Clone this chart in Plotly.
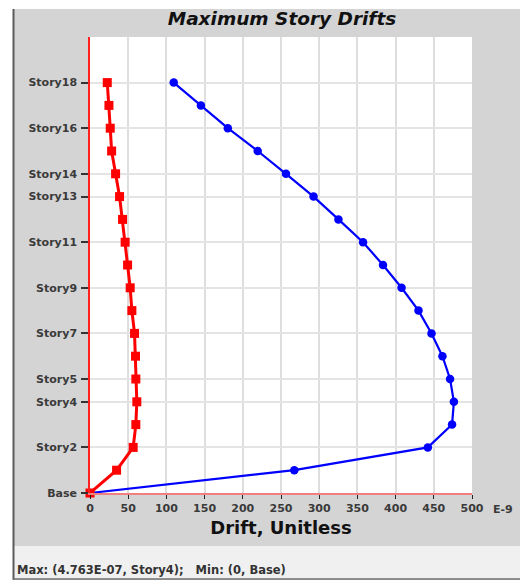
import plotly.graph_objects as go

# Story levels from the base upwards
stories = ["Base"] + [f"Story{i}" for i in range(1, 19)]

# Drift values, in units of 1E-9
drift_red = [0, 34.8, 56.5, 60.0, 61.3, 60.0, 59.6, 58.3, 54.8, 52.6,
             49.2, 46.0, 42.6, 38.7, 33.5, 28.3, 26.5, 24.8, 22.6]
drift_blue = [0, 267.4, 442.2, 473.9, 476.3, 471.3, 461.3, 447.0, 430.0, 407.8,
              383.5, 357.4, 325.2, 292.6, 256.5, 219.5, 180.4, 145.2, 109.6]

# Labelled story ticks on the vertical axis
story_ticks = ["Base", "Story2", "Story4", "Story5", "Story7", "Story9",
               "Story11", "Story13", "Story14", "Story16", "Story18"]
x_ticks = list(range(0, 501, 50))

status_text = "Max: (4.763E-07, Story4);   Min: (0, Base)"

W, H = 520, 581
L, R, T, B = 90, 48, 37, 88
PW, PH = W - L - R, H - T - B


def fx(p):
    """pixel column -> paper x"""
    return (p - L) / PW


def fy(p):
    """pixel row -> paper y"""
    return (H - B - p) / PH


GRAY = "#d4d4d4"
FONT = "DejaVu Sans"

fig = go.Figure()
fig.add_trace(go.Scatter(
    x=drift_blue, y=stories, mode="lines+markers",
    line=dict(color="#0000ff", width=2.2),
    marker=dict(symbol="circle", size=8.5, color="#0000ff"),
    cliponaxis=False, showlegend=False))
fig.add_trace(go.Scatter(
    x=drift_red, y=stories, mode="lines+markers",
    line=dict(color="#ff0000", width=3),
    marker=dict(symbol="square", size=9, color="#ff0000"),
    cliponaxis=False, showlegend=False))

shapes = [
    # white outer strips
    dict(type="rect", x0=fx(0), x1=fx(13), y0=fy(0), y1=fy(H), fillcolor="white", line_width=0),
    dict(type="rect", x0=fx(0), x1=fx(W), y0=fy(0), y1=fy(9), fillcolor="white", line_width=0),
    dict(type="rect", x0=fx(0), x1=fx(W), y0=fy(580), y1=fy(H), fillcolor="white", line_width=0),
    # status bar
    dict(type="rect", x0=fx(14), x1=fx(W), y0=fy(546), y1=fy(579), fillcolor="#f0f0f0", line_width=0),
    # frame borders
    dict(type="line", x0=fx(13.5), x1=fx(13.5), y0=fy(9), y1=fy(580),
         line=dict(color="#5a5a5a", width=2)),
    dict(type="line", x0=fx(13), x1=fx(W), y0=fy(579), y1=fy(579),
         line=dict(color="#707070", width=1.5)),
]
for s in shapes:
    s.update(xref="paper", yref="paper", layer="below")

tick_font = dict(family=FONT, size=11, color="#3a3a3a", weight="bold")

fig.update_layout(
    width=W, height=H,
    margin=dict(l=L, r=R, t=T, b=B, autoexpand=False),
    paper_bgcolor=GRAY, plot_bgcolor="white",
    shapes=shapes,
    title=dict(text="<b><i>Maximum Story Drifts</i></b>", x=fx(282), xanchor="center",
               xref="paper", y=1 - 19 / H, yanchor="middle",
               font=dict(family=FONT, size=18.5, color="#111")),
    xaxis=dict(range=[0, 500], tickvals=x_ticks, ticks="outside", ticklen=4,
               tickcolor="#222", tickwidth=1, showgrid=True, gridcolor="#dedede",
               gridwidth=1.5, zeroline=False, showline=True, linecolor="#f08080",
               linewidth=1.5, tickfont=tick_font,
               title=dict(text="<b>Drift, Unitless</b>", standoff=7,
                          font=dict(family=FONT, size=18, color="#111"))),
    yaxis=dict(type="category", categoryorder="array", categoryarray=stories,
               range=[0, 20], tickvals=story_ticks, ticktext=story_ticks,
               ticks="outside", ticklen=7, tickcolor="#333", tickwidth=1.5,
               ticklabelstandoff=2,
               showgrid=True, gridcolor="#e4e4e4", gridwidth=1.5, zeroline=False,
               showline=True, linecolor="#ff2020", linewidth=1.5,
               tickfont=tick_font),
    annotations=[
        dict(text="E-9", xref="paper", yref="paper", x=fx(503), y=fy(509),
             xanchor="center", yanchor="middle", showarrow=False,
             font=tick_font),
        dict(text=status_text, xref="paper", yref="paper", x=fx(15), y=fy(570),
             xanchor="left", yanchor="middle", showarrow=False,
             font=dict(family=FONT, size=11.5, color="#333", weight="bold")),
    ],
)

fig.write_html("out.html")
